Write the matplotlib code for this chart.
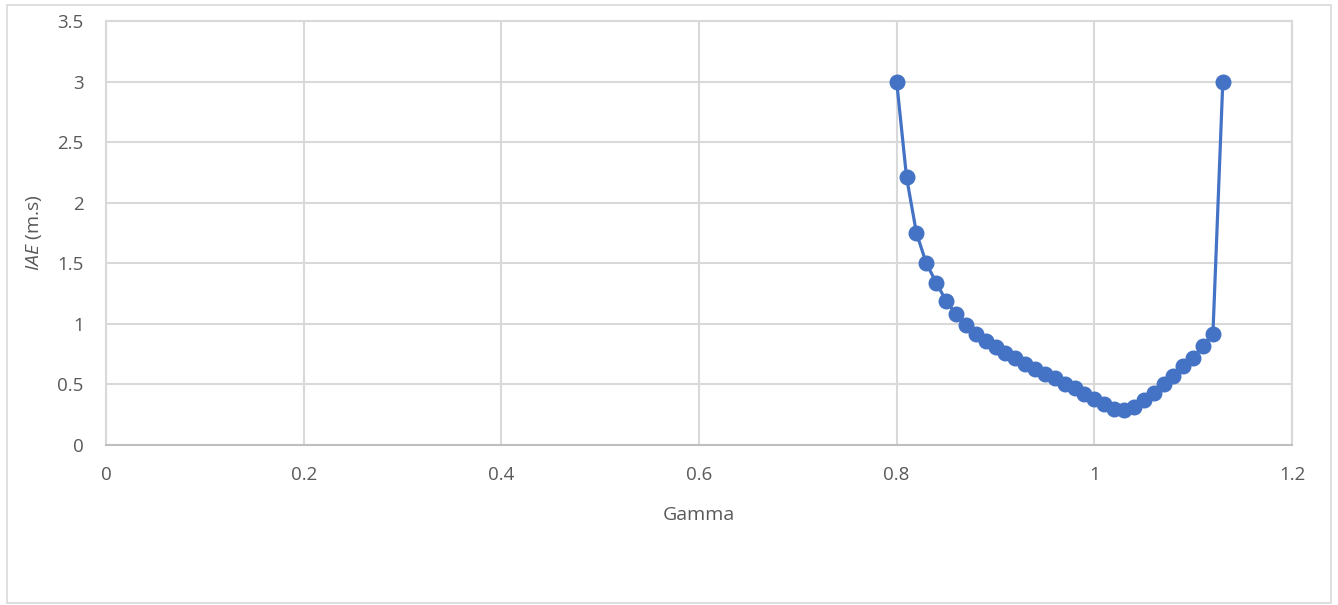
import matplotlib
matplotlib.use("Agg")
import matplotlib.pyplot as plt
from matplotlib.patches import Rectangle

# data
gamma = [0.80, 0.81, 0.82, 0.83, 0.84, 0.85, 0.86, 0.87, 0.88, 0.89,
         0.90, 0.91, 0.92, 0.93, 0.94, 0.95, 0.96, 0.97, 0.98, 0.99,
         1.00, 1.01, 1.02, 1.03, 1.04, 1.05, 1.06, 1.07, 1.08, 1.09,
         1.10, 1.11, 1.12, 1.13]
iae = [3.00, 2.21, 1.75, 1.50, 1.34, 1.19, 1.08, 0.99, 0.92, 0.86,
       0.81, 0.76, 0.72, 0.67, 0.63, 0.59, 0.55, 0.50, 0.47, 0.42,
       0.38, 0.34, 0.30, 0.29, 0.31, 0.37, 0.43, 0.50, 0.57, 0.65,
       0.72, 0.82, 0.92, 3.00]

xticks = [0, 0.2, 0.4, 0.6, 0.8, 1, 1.2]
xticklabels = ["0", "0.2", "0.4", "0.6", "0.8", "1", "1.2"]
yticks = [0, 0.5, 1, 1.5, 2, 2.5, 3, 3.5]
yticklabels = ["0", "0.5", "1", "1.5", "2", "2.5", "3", "3.5"]

plt.rcParams['font.family'] = ['Open Sans', 'DejaVu Sans']
plt.rcParams['mathtext.fontset'] = 'custom'
plt.rcParams['mathtext.rm'] = 'Open Sans'
plt.rcParams['mathtext.it'] = 'Open Sans:italic'

txt = '#595959'
grid = '#d9d9d9'

fig = plt.figure(figsize=(13.38, 6.05), dpi=100)
ax = fig.add_axes([106/1338, 1 - 445/605, (1292-106)/1338, (445-21)/605])

ax.plot(gamma, iae, color='#4472C4', lw=2.3, marker='o', ms=10.5, zorder=3)

ax.set_xlim(0, 1.2)
ax.set_ylim(0, 3.5)
ax.set_xticks(xticks)
ax.set_xticklabels(xticklabels)
ax.set_yticks(yticks)
ax.set_yticklabels(yticklabels)
ax.tick_params(length=0, labelsize=13.5, colors=txt)
ax.tick_params(axis='x', pad=15)
ax.tick_params(axis='y', pad=16)
ax.grid(True, color=grid, lw=1.5)
ax.set_axisbelow(True)
for s in ['left', 'right', 'top']:
    ax.spines[s].set_color(grid)
    ax.spines[s].set_linewidth(1.5)
ax.spines['bottom'].set_color('#bfbfbf')
ax.spines['bottom'].set_linewidth(1.5)

ax.set_xlabel('Gamma', fontsize=14, color=txt, labelpad=16)
ax.set_ylabel(r'$\mathit{IAE}$ (m.s)', fontsize=14, color=txt, labelpad=10)

fig.patches.append(Rectangle((7/1338, 1 - 603/605), (1331-7)/1338, (603-5)/605,
                             transform=fig.transFigure, fill=False,
                             edgecolor=grid, lw=1.2))

fig.savefig('out.png', dpi=100)
